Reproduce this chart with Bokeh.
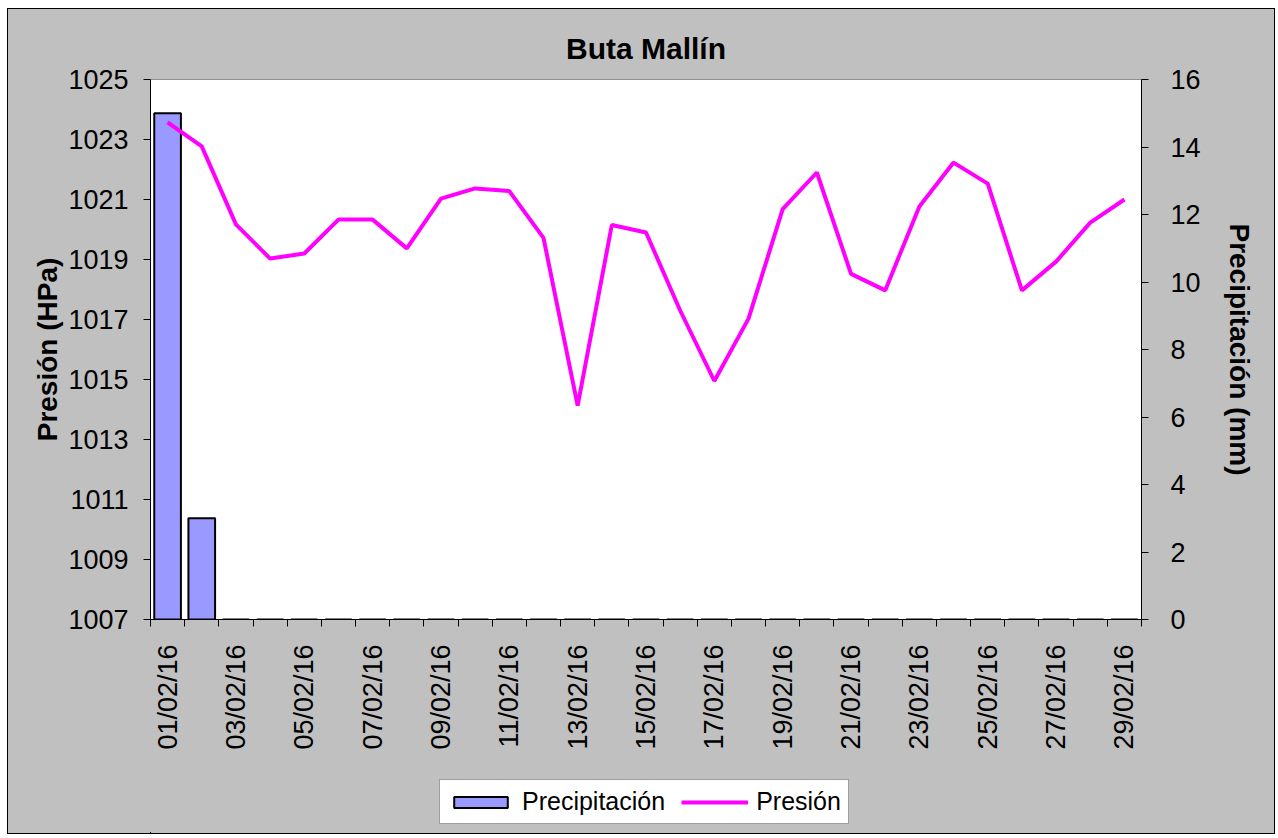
import math
from bokeh.plotting import figure
from bokeh.layouts import column
from bokeh.models import (Range1d, LinearAxis, FixedTicker, Legend, LegendItem,
                          ColumnDataSource, Title)
from bokeh.embed import file_html
from bokeh.resources import INLINE

# ---- data ----
dates = ["%02d/02/16" % d for d in range(1, 30)]
presion = [1023.57, 1022.77, 1020.17, 1019.03, 1019.2, 1020.33, 1020.33, 1019.37,
           1021.03, 1021.37, 1021.28, 1019.72, 1014.13, 1020.15, 1019.9, 1017.3,
           1014.95, 1017.03, 1020.68, 1021.9, 1018.52, 1017.97, 1020.77, 1022.23,
           1021.53, 1017.97, 1018.93, 1020.23, 1021.0]
precipitacion = [15.0, 3.0] + [0.0] * 27
left_ticks = list(range(1007, 1026, 2))
right_ticks = list(range(0, 17, 2))

x = list(range(1, len(dates) + 1))
src = ColumnDataSource(dict(x=x, pres=presion, prec=precipitacion, date=dates))

FONT = "Liberation Sans"
GRAY = "#C0C0C0"
BAR_FILL = "#9999FF"
LINE_COL = "#FF00FF"

p = figure(width=1266, height=756, frame_width=991, frame_height=540,
           output_backend="svg", toolbar_location=None,
           x_range=Range1d(0.5, len(dates) + 0.5), y_range=Range1d(1007, 1025),
           min_border_left=142, min_border_right=133, min_border_top=70,
           min_border_bottom=146)
p.background_fill_color = "white"
p.border_fill_color = GRAY
p.outline_line_color = "#909090"
p.outline_line_width = 1
p.xgrid.visible = False
p.ygrid.visible = False

p.title = Title(text="Buta Mallín", align="center", text_font=FONT,
                text_font_size="30px", text_font_style="bold", text_color="black",
                offset=0, standoff=30)

p.extra_y_ranges = {"precip": Range1d(0, 16)}

bars = p.vbar(x="x", top="prec", bottom=0, width=0.78, source=src,
              y_range_name="precip", fill_color=BAR_FILL, line_color="black",
              line_width=2)
line = p.line(x="x", y="pres", source=src, line_color=LINE_COL, line_width=4)

# x axis
xa = p.xaxis[0]
odd = [i for i in x if i % 2 == 1]
xa.ticker = FixedTicker(ticks=odd, minor_ticks=[i + 0.5 for i in range(0, len(dates) + 1)])
xa.major_label_overrides = {i: dates[i - 1] for i in odd}
xa.major_label_orientation = math.pi / 2
xa.major_tick_line_color = None
xa.minor_tick_line_color = "black"
xa.minor_tick_out = 7
xa.minor_tick_in = 0
xa.axis_line_color = "black"
xa.major_label_text_font = FONT
xa.major_label_text_font_size = "27px"
xa.major_label_text_color = "black"
xa.major_label_standoff = 18

# left axis
ya = p.yaxis[0]
ya.ticker = FixedTicker(ticks=left_ticks)
ya.axis_label = "Presión (HPa)"
ya.axis_label_text_font = FONT
ya.axis_label_text_font_size = "28px"
ya.axis_label_text_font_style = "bold"
ya.axis_label_text_color = "black"
ya.axis_label_standoff = 2
ya.major_label_text_font = FONT
ya.major_label_text_font_size = "27px"
ya.major_label_text_color = "black"
ya.major_label_standoff = 15
ya.major_tick_out = 7
ya.major_tick_in = 0
ya.minor_tick_line_color = None
ya.axis_line_color = "black"

# right axis
ra = LinearAxis(y_range_name="precip", ticker=FixedTicker(ticks=right_ticks),
                axis_label="Precipitación (mm)")
ra.axis_label_text_font = FONT
ra.axis_label_text_font_size = "28px"
ra.axis_label_text_font_style = "bold"
ra.axis_label_text_color = "black"
ra.axis_label_standoff = 20
ra.major_label_text_font = FONT
ra.major_label_text_font_size = "27px"
ra.major_label_text_color = "black"
ra.major_label_standoff = 22
ra.major_tick_out = 7
ra.major_tick_in = 0
ra.minor_tick_line_color = None
ra.axis_line_color = "black"
p.add_layout(ra, "right")

# ---- legend strip (separate figure below the chart) ----
leg = figure(width=1266, height=68, frame_width=1266, frame_height=68,
             output_backend="svg", toolbar_location=None,
             x_range=Range1d(100, 101), y_range=Range1d(2000, 2001),
             x_axis_location=None, y_axis_location=None,
             min_border_left=0, min_border_right=0, min_border_top=0,
             min_border_bottom=0)
leg.background_fill_color = GRAY
leg.border_fill_color = GRAY
leg.outline_line_color = None
leg.grid.visible = False
lbars = leg.vbar(x="x", top="prec", bottom=0, width=0.78, source=src,
                 fill_color=BAR_FILL, line_color="black", line_width=2)
lline = leg.line(x="x", y="pres", source=src, line_color=LINE_COL, line_width=4)

legend = Legend(items=[LegendItem(label="Precipitación", renderers=[lbars]),
                       LegendItem(label="Presión", renderers=[lline])],
                orientation="horizontal", location=(431, 9),
                label_text_font=FONT, label_text_font_size="25px",
                label_text_color="black", glyph_width=67, glyph_height=14,
                label_height=20, label_standoff=8, spacing=16, padding=7,
                margin=0, border_line_color="#404040", border_line_width=1,
                background_fill_color="white", background_fill_alpha=1)
leg.add_layout(legend, "center")

layout = column(p, leg, spacing=0)
layout.margin = (8, 0, 0, 7)
layout.styles = {"border": "1px solid black", "background-color": GRAY}

open("out.html", "w").write(file_html(layout, INLINE))
